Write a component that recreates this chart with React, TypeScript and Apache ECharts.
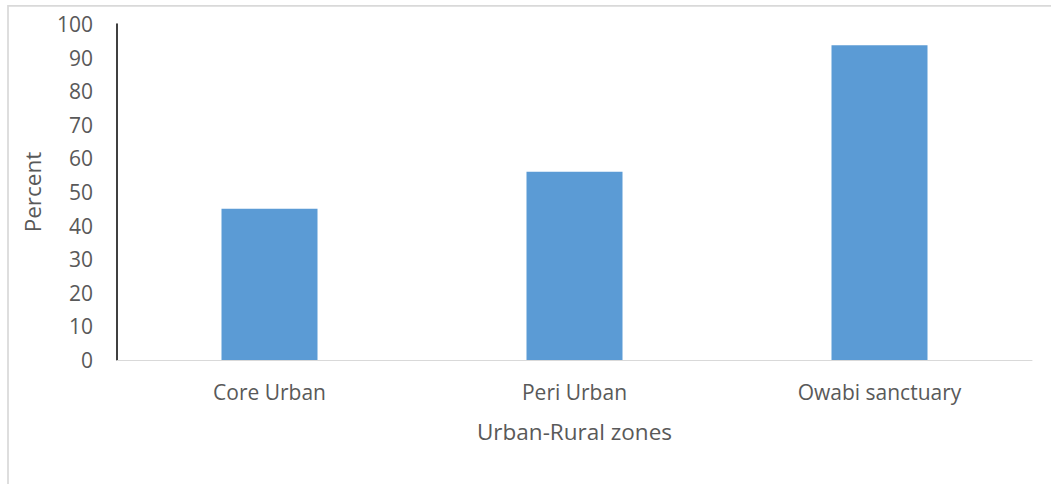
import React, { useEffect, useRef } from "react";
import * as echarts from "echarts";

const categories = ["Core Urban", "Peri Urban", "Owabi sanctuary"];
const percentValues = [45, 56, 93.7];
const yTicks = { min: 0, max: 100, interval: 10 };
const xAxisTitle = "Urban-Rural zones";
const yAxisTitle = "Percent";

export default function App() {
  const ref = useRef<HTMLDivElement>(null);
  useEffect(() => {
    if (!ref.current) return;
    const chart = echarts.init(ref.current, null, { renderer: "svg" });
    const font = "'Open Sans', sans-serif";
    chart.setOption({
      animation: false,
      backgroundColor: "#ffffff",
      textStyle: { fontFamily: font },
      grid: { left: 117, top: 24, right: 19, bottom: 124, containLabel: false },
      graphic: [
        {
          type: "rect",
          shape: { x: 8, y: 5.8, width: 1100, height: 600 },
          style: { fill: "none", stroke: "#d9d9d9", lineWidth: 1.7 },
          silent: true,
        },
      ],
      xAxis: {
        type: "category",
        data: categories,
        name: xAxisTitle,
        nameLocation: "middle",
        nameGap: 60,
        nameTextStyle: { color: "#595959", fontSize: 22.5, fontFamily: font },
        axisLine: { show: true, lineStyle: { color: "#d9d9d9", width: 1 } },
        axisTick: { show: false },
        axisLabel: { color: "#595959", fontSize: 21, margin: 21, fontFamily: font },
        splitLine: { show: false },
      },
      yAxis: {
        type: "value",
        min: yTicks.min,
        max: yTicks.max,
        interval: yTicks.interval,
        name: yAxisTitle,
        nameLocation: "middle",
        nameGap: 73,
        nameRotate: 90,
        nameTextStyle: { color: "#595959", fontSize: 22.5, fontFamily: font },
        axisLine: { show: true, lineStyle: { color: "#000000", width: 1.5 } },
        axisTick: { show: false },
        axisLabel: { color: "#595959", fontSize: 21, margin: 24, fontFamily: font },
        splitLine: { show: false },
      },
      series: [
        {
          type: "bar",
          data: percentValues,
          barWidth: 96,
          itemStyle: { color: "#5b9bd5" },
        },
      ],
    });
    return () => chart.dispose();
  }, []);
  return (
    <div
      ref={ref}
      style={{ position: "fixed", left: 0, top: 0, width: 1051, height: 484 }}
    />
  );
}
